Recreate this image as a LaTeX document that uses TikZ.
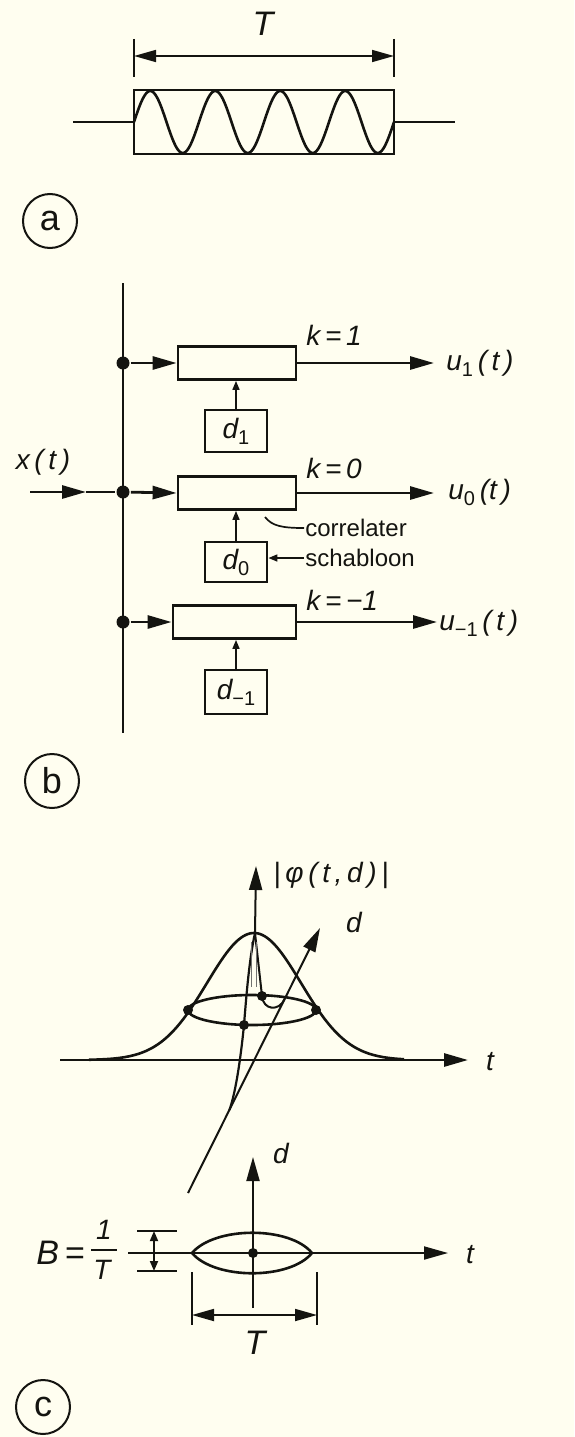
\documentclass[tikz,border=0pt]{standalone}
\usepackage{fontspec}
\setmainfont{Liberation Sans}
\usetikzlibrary{arrows.meta}
\definecolor{paper}{RGB}{255,254,240}
\definecolor{ink}{RGB}{20,20,16}
\newcommand{\lowsub}[1]{\raisebox{-6pt}{\upshape\fontsize{20}{20}\selectfont #1}}
\begin{document}
\begin{tikzpicture}[x=1pt,y=-1pt, line width=2.8pt, draw=ink, text=ink,
  tip/.style={-{Triangle[length=24pt,width=13pt]}},
  smalltip/.style={-{Triangle[length=9pt,width=7pt]}, line width=1.6pt},
  dimarrow/.style={{Triangle[length=22pt,width=12pt]}-{Triangle[length=22pt,width=12pt]}, line width=1.7pt},
  bdim/.style={{Triangle[length=10pt,width=8pt]}-{Triangle[length=10pt,width=8pt]}, line width=1.7pt},
  thinline/.style={line width=1.7pt},
  blk/.style={draw, minimum width=118pt, minimum height=33pt, inner sep=0pt},
  dbox/.style={draw, minimum width=62pt, minimum height=42pt, inner sep=0pt, font=\fontsize{28}{30}\selectfont\itshape},
  lbl/.style={font=\fontsize{28}{30}\selectfont\itshape, inner sep=0pt},
  biglbl/.style={font=\fontsize{34}{36}\selectfont\itshape, inner sep=0pt},
  txt/.style={font=\fontsize{24}{26}\selectfont, inner sep=0pt},
  dot/.style={circle, fill=ink, inner sep=0pt, minimum size=13pt},
  sdot/.style={circle, fill=ink, inner sep=0pt, minimum size=10pt},
  circ/.style={draw, circle, line width=2pt, minimum size=54pt, inner sep=0pt, font=\fontsize{36}{38}\selectfont}]
\fill[paper] (0,0) rectangle (574,1437);
\useasboundingbox (0,0) rectangle (574,1437);

% ---------- (a) ----------
\node[draw, line width=2pt, minimum width=260pt, minimum height=64pt, inner sep=0pt] (wbox) at (264,122) {};
\coordinate (ain) at (73,122);
\coordinate (aout) at (455,122);
\draw (ain) -- (wbox.west);
\draw (wbox.east) -- (aout);
\draw[line width=2.6pt, domain=0:260, samples=220, smooth] plot ({\x+134}, {122-31*sin(\x/65*360)});
\coordinate (Tl) at (134,56);
\coordinate (Tr) at (394,56);
\draw[thinline] (134,39) -- (134,77);
\draw[thinline] (394,39) -- (394,77);
\draw[dimarrow] (Tl) -- (Tr);
\node[biglbl] (Ta) at (263,24) {T};
\node[circ] (la) at (50,221) {a};

% ---------- (b) ----------
\coordinate (vtop) at (123,283);
\coordinate (vbot) at (123,733);
\draw (vtop) -- (vbot);
\node[dot] (j1) at (123,363) {};
\node[dot] (j0) at (123,492) {};
\node[dot] (jm) at (123,622) {};
\node[blk] (c1) at (237,363) {};
\node[blk] (c0) at (237,493) {};
\node[blk, minimum width=123pt] (cm) at (234.5,622) {};
\draw[tip] (j1) -- (c1.west);
\draw[tip] (j0) -- (c0.west);
\draw[tip] (jm) -- (cm.west);
\coordinate (o1) at (434,363);
\coordinate (o0) at (434,493);
\coordinate (om) at (437,622);
\draw[tip] (c1.east) -- (o1);
\draw[tip] (c0.east) -- (o0);
\draw[tip] (cm.east) -- (om);
\node[lbl, anchor=west] (u1) at (445,363) {u\lowsub{1}\,(\,t\,)};
\node[lbl, anchor=west] (u0) at (447,492) {u\lowsub{0}\,(t\,)};
\node[lbl, anchor=west] (um) at (438,623) {u\lowsub{−1}\,(\,t\,)};
\node[lbl, anchor=west] (k1) at (305,335) {k\,=\,1};
\node[lbl, anchor=west] (k0) at (305,468) {k\,=\,0};
\node[lbl, anchor=west] (km) at (305,600) {k\,=\,−1};
\node[dbox] (d1) at (236,431) {d\lowsub{1}};
\node[dbox, minimum height=40pt] (d0) at (236,562) {d\lowsub{0}};
\node[dbox, minimum height=44pt] (dm) at (236,692) {d\lowsub{−1}};
\draw[smalltip] (d1.north) -- (d1.north |- c1.south);
\draw[smalltip] (d0.north) -- (d0.north |- c0.south);
\draw[smalltip] (dm.north) -- (dm.north |- cm.south);
\coordinate (xin) at (30,492);
\coordinate (xmid) at (86,492);
\draw[tip] (xin) -- (xmid);
\draw (xmid) -- (j0);
\node[lbl] (xt) at (43,462) {x\,(\,t\,)};
\node[txt, anchor=west] (corr) at (304,528) {correlater};
\coordinate (cl) at (265,517);
\draw[thinline] (cl) .. controls (272,526) and (282,528) .. (corr.west);
\node[txt, anchor=west] (schab) at (304,558) {schabloon};
\draw[smalltip] (schab.west) -- (d0.east |- schab.west);
\node[circ] (lb) at (52,781) {b};

% ---------- (c) upper ----------
\coordinate (pk) at (255,933);
\coordinate (ztip) at (256,866);
\draw[tip, line width=2pt] (pk) -- (ztip);
\node[lbl, anchor=west] (phi) at (272,875) {|\,φ\,(\,t\,,\,d\,)\,|};
\coordinate (t1s) at (60,1060);
\coordinate (t1e) at (468,1060);
\draw[tip] (t1s) -- (t1e);
\node[lbl] (t1) at (490,1062) {t};
\draw[line width=2.6pt, domain=-165:150, samples=150, smooth] plot ({254+\x}, {1060-127*exp(-0.5*(\x/47)*(\x/47))});
\draw[line width=2.6pt] (252,1010) ellipse [x radius=64, y radius=15];
\node[sdot] (ld) at (188,1010) {};
\node[sdot] (rd) at (316,1010) {};
\node[sdot] (fd) at (244,1025) {};
\node[sdot] (bd) at (262,996) {};
\coordinate (dtip) at (320,928);
\coordinate (dend) at (188,1193);
\coordinate (dmeet) at (229.4,1110);
\draw[tip, line width=2pt] (dend) -- (dtip);
\node[lbl] (dl1) at (354,922) {d};
\draw[line width=2.2pt] (pk) .. controls (249,960) and (246,1000) .. (fd.center) .. controls (241,1055) and (236,1092) .. (dmeet);
\draw[line width=2pt] (pk) -- (bd.center);
\draw[line width=1.2pt, ink!60] (251.5,942) -- (251.5,987);
\draw[line width=1.2pt, ink!60] (256.5,942) -- (256.5,987);
\coordinate (lp) at (284.6,999);
\draw[line width=2pt] (bd.center) .. controls (263,1010) and (279,1012) .. (lp);

% ---------- (c) lower ----------
\coordinate (d2b) at (253,1308);
\coordinate (d2t) at (253,1157);
\draw[tip, line width=2pt] (d2b) -- (d2t);
\node[lbl] (dl2) at (281,1153) {d};
\coordinate (t2s) at (128,1253);
\coordinate (t2e) at (448,1253);
\draw[tip, line width=2pt] (t2s) -- (t2e);
\node[lbl] (t2) at (470,1255) {t};
\draw[line width=2.6pt] (192,1253) .. controls (215,1226) and (290,1226) .. (312,1253) .. controls (290,1280) and (215,1280) .. cycle;
\node[sdot] (cd) at (253,1253) {};
\draw[thinline] (137,1231) -- (177,1231);
\draw[thinline] (137,1271) -- (177,1271);
\coordinate (Bt) at (154,1231);
\coordinate (Bb) at (154,1271);
\draw[bdim] (Bt) -- (Bb);
\node[biglbl, anchor=east] (Beq) at (86,1253) {B\,=};
\node[lbl] (fnum) at (104,1230) {1};
\node[lbl] (fden) at (102,1270) {T};
\draw[thinline] (91,1250) -- (117,1250);
\draw[thinline] (192,1272) -- (192,1325);
\draw[thinline] (317,1272) -- (317,1325);
\coordinate (TL) at (192,1315);
\coordinate (TR) at (317,1315);
\draw[dimarrow] (TL) -- (TR);
\node[biglbl] (Tc) at (255,1343) {T};
\node[circ] (lc) at (43,1407) {c};
\end{tikzpicture}
\end{document}
